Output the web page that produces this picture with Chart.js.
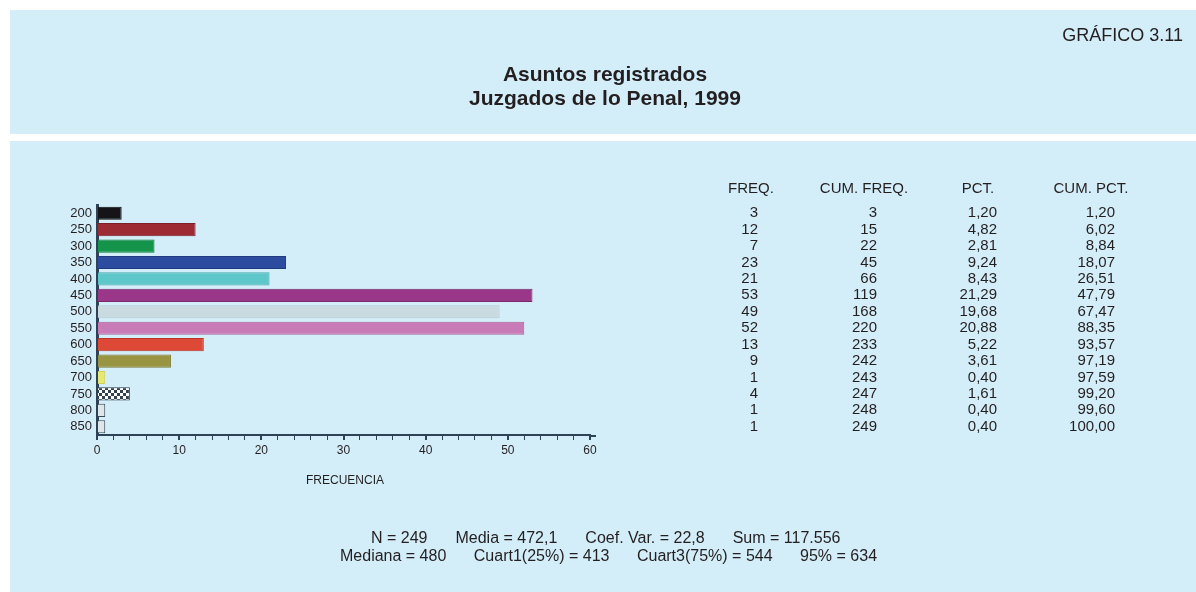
<!DOCTYPE html>
<html>
<head>
<meta charset="utf-8">
<script src="https://cdn.jsdelivr.net/npm/chart.js@4.4.1/dist/chart.umd.min.js"></script>
<style>
  html, body { margin: 0; padding: 0; background: #ffffff; }
  #wrap { position: relative; width: 1196px; height: 592px; }
</style>
</head>
<body>
<div id="wrap"><canvas id="grafico" width="1196" height="592"></canvas></div>
<script>
const clases   = ['200','250','300','350','400','450','500','550','600','650','700','750','800','850'];
const freq     = [3, 12, 7, 23, 21, 53, 49, 52, 13, 9, 1, 4, 1, 1];
const cumFreq  = [3, 15, 22, 45, 66, 119, 168, 220, 233, 242, 243, 247, 248, 249];
const pct      = ['1,20','4,82','2,81','9,24','8,43','21,29','19,68','20,88','5,22','3,61','0,40','1,61','0,40','0,40'];
const cumPct   = ['1,20','6,02','8,84','18,07','26,51','47,79','67,47','88,35','93,57','97,19','97,59','99,20','99,60','100,00'];
const encabezados = ['FREQ.', 'CUM. FREQ.', 'PCT.', 'CUM. PCT.'];
const estadLinea1 = ['N = 249', 'Media = 472,1', 'Coef. Var. = 22,8', 'Sum = 117.556'];
const estadLinea2 = ['Mediana = 480', 'Cuart1(25%) = 413', 'Cuart3(75%) = 544', '95% = 634'];

const FONDO = '#d3edf9';
const TEXTO = '#231f20';
const EJE = '#2f4356';
const FUENTE = '"Liberation Sans", Arial, sans-serif';

// Patrón cuadriculado para la barra de 750
function patronAjedrez() {
    const c = document.createElement('canvas');
    c.width = 6; c.height = 6;
    const g = c.getContext('2d');
    g.fillStyle = '#ffffff';
    g.fillRect(0, 0, 6, 6);
    g.fillStyle = '#33414f';
    g.fillRect(0, 0, 3, 3);
    g.fillRect(3, 3, 3, 3);
    return g.createPattern(c, 'repeat');
}

const ctx = document.getElementById('grafico').getContext('2d');
const coloresBarra = ['#151518', '#9c2b33', '#13944a', '#2b4c9f', '#5ec7c9', '#9a3789', '#c9dbe1', '#c97bb8',
                      '#de4837', '#999441', '#e7e774', patronAjedrez(), '#dfe6ea', '#dfe6ea'];
const bordesBarra  = ['#0c0c0e', '#7d1f26', '#0e7a3b', '#1f3a80', '#47a9ab', '#7a2a6c', '#b7c9d0', '#a9629a',
                      '#b8372a', '#7e7a33', '#cfcf5e', '#2e3a46', '#3d4a56', '#3d4a56'];

// Escribe una fila de textos separados por un hueco fijo
function filaTextos(c, textos, x0, y0, hueco) {
    let x = x0;
    textos.forEach((t) => {
        c.fillText(t, x, y0);
        x += c.measureText(t).width + hueco;
    });
}

// Fondos azules, títulos, tabla y estadísticos
const decoracion = {
    id: 'decoracion',
    beforeDraw(chart) {
        const c = chart.ctx;
        c.save();
        c.fillStyle = '#ffffff';
        c.fillRect(0, 0, chart.width, chart.height);
        c.fillStyle = FONDO;
        c.fillRect(10, 10, 1186, 124);
        c.fillRect(10, 141, 1186, 451);
        c.restore();
    },
    afterDraw(chart) {
        const c = chart.ctx;
        const y = chart.scales.y;
        const x = chart.scales.x;
        c.save();

        // el eje X sobresale un poco más allá del 60
        c.strokeStyle = EJE;
        c.lineWidth = 2;
        c.beginPath();
        c.moveTo(x.right, x.top + 1);
        c.lineTo(x.right + 6, x.top + 1);
        c.stroke();

        c.fillStyle = TEXTO;
        c.textBaseline = 'middle';

        c.font = '18px ' + FUENTE;
        c.textAlign = 'right';
        c.fillText('GRÁFICO 3.11', 1183, 36);

        c.font = 'bold 21px ' + FUENTE;
        c.textAlign = 'center';
        c.fillText('Asuntos registrados', 605, 75);
        c.fillText('Juzgados de lo Penal, 1999', 605, 99);

        // Tabla de frecuencias
        c.font = '15px ' + FUENTE;
        const centros = [751, 864, 978, 1091];
        encabezados.forEach((t, i) => c.fillText(t, centros[i], 189));
        c.textAlign = 'right';
        const columnas = [[freq, 758], [cumFreq, 877], [pct, 997], [cumPct, 1115]];
        clases.forEach((k, i) => {
            const py = y.getPixelForValue(i);
            columnas.forEach(([datos, px]) => c.fillText(String(datos[i]), px, py));
        });

        // Título del eje X
        c.font = '12px ' + FUENTE;
        c.textAlign = 'left';
        c.fillText('FRECUENCIA', 306, 481);

        // Estadísticos
        c.font = '16px ' + FUENTE;
        filaTextos(c, estadLinea1, 371, 539, 28);
        filaTextos(c, estadLinea2, 340, 557, 27.5);
        c.restore();
    }
};

new Chart(ctx, {
    type: 'bar',
    data: {
        labels: clases,
        datasets: [{
            data: freq,
            backgroundColor: coloresBarra,
            borderColor: bordesBarra,
            borderWidth: 1,
            barPercentage: 0.8,
            categoryPercentage: 1.0
        }]
    },
    options: {
        indexAxis: 'y',
        responsive: false,
        animation: false,
        layout: { padding: { left: 47, right: 606, top: 205, bottom: 127 } },
        plugins: { legend: { display: false }, tooltip: { enabled: false } },
        scales: {
            x: {
                min: 0, max: 60,
                afterFit: (s) => { s.height = 30; },
                border: { color: EJE, width: 2 },
                grid: { drawOnChartArea: false, drawTicks: true, tickLength: 5, color: EJE,
                        lineWidth: (c) => (c.tick && c.tick.value % 10 === 0 ? 2 : 1) },
                ticks: {
                    stepSize: 2, autoSkip: false, maxRotation: 0,
                    color: TEXTO, font: { family: FUENTE, size: 12 },
                    callback: (v) => (v % 10 === 0 ? v : '')
                }
            },
            y: {
                afterFit: (s) => { s.width = 50; },
                border: { color: EJE, width: 3 },
                grid: { display: false, drawTicks: false },
                ticks: { autoSkip: false, color: TEXTO, font: { family: FUENTE, size: 13 }, padding: 5 }
            }
        }
    },
    plugins: [decoracion]
});
</script>
</body>
</html>
